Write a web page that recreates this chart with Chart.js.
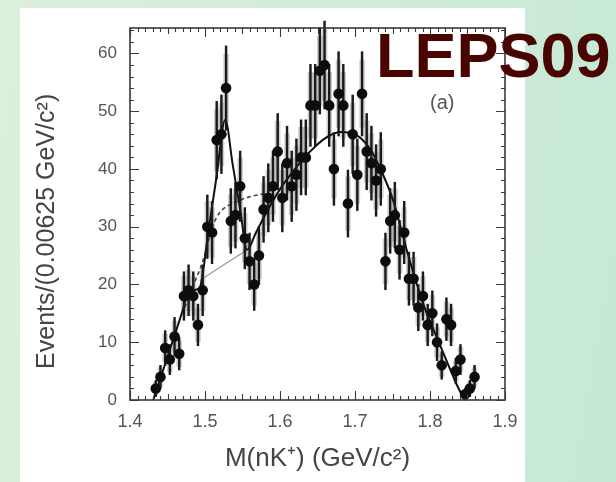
<!DOCTYPE html>
<html><head><meta charset="utf-8">
<script src="https://cdn.jsdelivr.net/npm/chart.js@4"></script>
<style>
html,body{margin:0;padding:0;width:616px;height:482px;overflow:hidden;}
body{position:relative;background:linear-gradient(100deg,#dcf0dc 0%,#d2ecdc 40%,#c6e8d5 100%);font-family:"Liberation Sans",Arial,sans-serif;}
#panel{position:absolute;left:20px;top:8px;width:505px;height:474px;background:#fff;}
#wrap{position:absolute;left:0;top:0;width:616px;height:482px;}
#logo{position:absolute;left:376px;top:24px;font:bold 63px "Liberation Sans",Arial,sans-serif;line-height:1;color:#4a0400;white-space:nowrap;}
#tag{position:absolute;left:430px;top:92px;font:20px "Liberation Sans",Arial,sans-serif;line-height:1;color:#555;}
</style></head>
<body>
<div id="panel"></div>
<div id="wrap"><canvas id="c" width="616" height="482"></canvas></div>
<div id="tag">(a)</div>
<div id="logo">LEPS09</div>
<script>
// bin centres, GeV/c^2
const masses=[1.4344,1.4406,1.4469,1.4531,1.4594,1.4656,1.4719,1.4781,1.4844,1.4906,
1.4969,1.5031,1.5094,1.5156,1.5219,1.5281,1.5344,1.5406,1.5469,1.5531,
1.5594,1.5656,1.5719,1.5781,1.5844,1.5906,1.5969,1.6031,1.6094,1.6156,
1.6219,1.6281,1.6344,1.6406,1.6469,1.6531,1.6594,1.6656,1.6719,1.6781,
1.6844,1.6906,1.6969,1.7031,1.7094,1.7156,1.7219,1.7281,1.7344,1.7406,
1.7469,1.7531,1.7594,1.7656,1.7719,1.7781,1.7844,1.7906,1.7969,1.8031,
1.8094,1.8156,1.8219,1.8281,1.8344,1.8406,1.8469,1.8531,1.8594];
const counts=[2,4,9,7,11,8,18,19,18,13,
19,30,29,45,46,54,31,32,37,28,
24,20,25,33,35,37,43,35,41,37,
39,42,42,51,51,57,58,51,40,53,
51,34,46,39,53,43,41,38,40,24,
31,32,26,29,21,21,16,18,13,15,
10,6,14,13,5,7,1,2,4];
const errs=[1.4,2,3,2.6,3.3,2.8,4.2,4.4,4.2,3.6,
4.4,5.5,5.4,6.7,6.8,7.3,5.6,5.7,6.1,5.3,
4.9,4.5,5,5.7,5.9,6.1,6.6,5.9,6.4,6.1,
6.2,6.5,6.5,7.1,7.1,7.5,7.6,7.1,6.3,7.3,
7.1,5.8,6.8,6.2,7.3,6.6,6.4,6.2,6.3,4.9,
5.6,5.7,5.1,5.4,4.6,4.6,4,4.2,3.6,3.9,
3.2,2.4,3.7,3.6,2.2,2.6,1,1.4,2];
// total fit
const fitX=[1.431,1.44,1.45,1.46,1.47,1.477,1.485,1.493,1.505,1.515,1.527,1.537,1.547,1.556,1.568,1.58,1.60,1.62,1.64,1.66,1.68,1.70,1.72,1.734,1.751,1.771,1.79,1.815,1.837,1.846];
const fitY=[0,3.5,7.5,11.4,15.4,18.4,19,19.5,29.7,38.3,48.5,40.7,32.9,26,29,32,36.5,40,43,45.3,46.4,46,43.5,40,34.5,25,17,9,2.3,0];
// dashed background
const dashX=[1.473,1.485,1.497,1.51,1.52,1.54,1.56,1.58,1.595];
const dashY=[16,20,24,30,32.5,34.2,35.2,35.8,37];
// thin grey background
const thinX=[1.493,1.52,1.55,1.56];
const thinY=[20.7,23,25.5,27.5];
const xTicks=[1.4,1.5,1.6,1.7,1.8,1.9];
const yTicks=[0,10,20,30,40,50,60];

const pts=masses.map((m,i)=>({x:m,y:counts[i]}));
const ebar=masses.map((m,i)=>({x:m,y:[counts[i]-errs[i],counts[i]+errs[i]]}));
const band=masses.map((m,i)=>({x:m,y:[counts[i]-errs[i]*0.8,counts[i]+errs[i]*0.8]}));
const xy=(X,Y)=>X.map((v,i)=>({x:v,y:Y[i]}));

const frame={id:'frame',afterDatasetsDraw(chart){
  const {ctx,chartArea:a,scales:{x,y}}=chart;
  ctx.save();
  ctx.strokeStyle='#3a3a3a';ctx.lineWidth=1.1;ctx.beginPath();
  for(let i=0;i<=50;i++){
    const px=Math.round(x.getPixelForValue(1.4+i*0.01))+0.5;
    const L=i%10===0?9:(i%5===0?6:4);
    ctx.moveTo(px,a.bottom);ctx.lineTo(px,a.bottom-L);
    ctx.moveTo(px,a.top);ctx.lineTo(px,a.top+L);
  }
  for(let v=0;v<=64;v+=2){
    const py=Math.round(y.getPixelForValue(v))+0.5;
    const L=v%10===0?9:4;
    ctx.moveTo(a.left,py);ctx.lineTo(a.left+L,py);
    ctx.moveTo(a.right,py);ctx.lineTo(a.right-L,py);
  }
  ctx.stroke();
  ctx.lineWidth=1.6;ctx.strokeRect(a.left,a.top,a.width,a.height);
  ctx.restore();
}};

new Chart(document.getElementById('c'),{
  type:'scatter',
  data:{datasets:[
    {type:'bar',data:band,backgroundColor:'rgba(150,150,150,0.45)',barThickness:5,grouped:false,order:6,borderWidth:0},
    {type:'line',data:xy(thinX,thinY),borderColor:'#9a9a9a',borderWidth:1.2,pointRadius:0,showLine:true,fill:false,tension:0,order:5},
    {type:'line',data:xy(dashX,dashY),borderColor:'#444',borderWidth:1.6,borderDash:[4,3],pointRadius:0,showLine:true,fill:false,cubicInterpolationMode:'monotone',order:4},
    {type:'line',data:xy(fitX,fitY),borderColor:'#111',borderWidth:2,pointRadius:0,showLine:true,fill:false,cubicInterpolationMode:'monotone',order:3},
    {type:'bar',data:ebar,backgroundColor:'#1a1a1a',barThickness:1.8,grouped:false,order:2,borderWidth:0,clip:false},
    {type:'scatter',data:pts,backgroundColor:'#0d0d0d',borderWidth:0,pointRadius:5.3,order:1}
  ]},
  options:{
    responsive:false,animation:false,
    layout:{padding:{left:20,right:111,top:28,bottom:0}},
    plugins:{legend:{display:false},tooltip:{enabled:false}},
    scales:{
      x:{type:'linear',min:1.4,max:1.9,offset:false,
        grid:{display:false,drawTicks:false,offset:false},border:{display:false},
        afterBuildTicks:s=>{s.ticks=xTicks.map(v=>({value:v}));},
        afterFit:s=>{s.height=82;},
        ticks:{padding:11,color:'#555',font:{size:18,family:'"Liberation Sans", Arial, sans-serif'},callback:v=>Number(v).toFixed(1),maxRotation:0,autoSkip:false},
        title:{display:true,text:'M(nK\u207A) (GeV/c\u00B2)',color:'#444',font:{size:26,family:'"Liberation Sans", Arial, sans-serif'},padding:{top:0,bottom:8}}
      },
      y:{type:'linear',min:0,max:64.4,
        grid:{display:false,drawTicks:false},border:{display:false},
        afterBuildTicks:s=>{s.ticks=yTicks.map(v=>({value:v}));},
        afterFit:s=>{s.width=110;},
        ticks:{padding:13,color:'#555',font:{size:17,family:'"Liberation Sans", Arial, sans-serif'},callback:v=>String(v)},
        title:{display:true,text:'Events/(0.00625 GeV/c\u00B2)     ',color:'#444',font:{size:25,family:'"Liberation Sans", Arial, sans-serif'},padding:{top:12,bottom:0}}
      }
    }
  },
  plugins:[frame]
});
</script>
</body></html>
